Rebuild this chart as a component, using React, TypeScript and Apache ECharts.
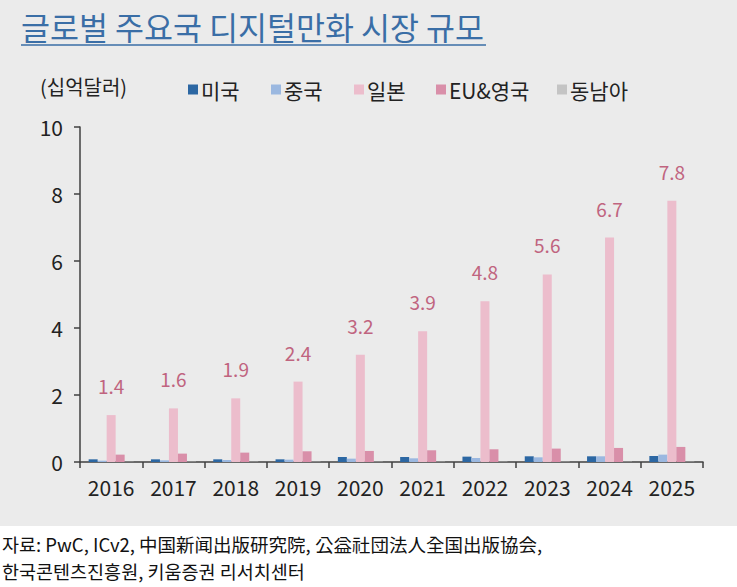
import React, { useEffect, useRef } from "react";
import * as echarts from "echarts";

const years = ["2016", "2017", "2018", "2019", "2020", "2021", "2022", "2023", "2024", "2025"];
const usa = [0.08, 0.08, 0.08, 0.08, 0.15, 0.15, 0.16, 0.17, 0.17, 0.18];
const china = [0.04, 0.05, 0.06, 0.07, 0.1, 0.11, 0.12, 0.14, 0.17, 0.22];
const japan = [1.4, 1.6, 1.9, 2.4, 3.2, 3.9, 4.8, 5.6, 6.7, 7.8];
const euUk = [0.22, 0.25, 0.28, 0.32, 0.33, 0.35, 0.38, 0.4, 0.42, 0.45];
const sea = [0.01, 0.01, 0.01, 0.01, 0.01, 0.01, 0.01, 0.01, 0.01, 0.01];
const seriesNames = ["미국", "중국", "일본", "EU&영국", "동남아"];
const colors = ["#2c67a3", "#9bb8e0", "#ecbdcc", "#d98fa9", "#c4c4c4"];
const legendLefts = [183, 266, 349, 431, 552];

const FONT = "'Noto Sans CJK KR', 'Noto Sans', sans-serif";

export default function App() {
  const ref = useRef<HTMLDivElement>(null);
  useEffect(() => {
    document.body.style.margin = "0";
    const chart = echarts.init(ref.current!, null, { renderer: "svg" });
    const datas = [usa, china, japan, euUk, sea];
    chart.setOption({
      animation: false,
      backgroundColor: "#ffffff",
      textStyle: { fontFamily: FONT },
      color: colors,
      graphic: [
        { type: "rect", z: -10, shape: { x: 0, y: 0, width: 737, height: 526 }, style: { fill: "#ebebeb" }, silent: true },
        { type: "text", left: 21, top: 10, style: { text: "글로벌 주요국 디지털만화 시장 규모", fill: "#3a6ea6", font: `31.5px ${FONT}` } },
        { type: "line", shape: { x1: 21, y1: 45, x2: 486, y2: 45 }, style: { stroke: "#3a6ea6", lineWidth: 1.5 } },
        { type: "text", left: 40, top: 76, style: { text: "(십억달러)", fill: "#222", font: `20px ${FONT}` } },
        {
          type: "text",
          left: 2,
          top: 530,
          style: {
            text: "자료: PwC, ICv2, 中国新闻出版研究院, 公益社団法人全国出版協会,\n한국콘텐츠진흥원, 키움증권 리서치센터",
            fill: "#111",
            font: `18.5px ${FONT}`,
            lineHeight: 27,
          },
        },
      ],
      legend: seriesNames.map((name, i) => ({
        left: legendLefts[i],
        top: 74,
        itemWidth: 10,
        itemHeight: 10,
        itemGap: 0,
        icon: "rect",
        textStyle: { fontSize: 21, color: "#222", fontFamily: FONT, padding: [0, 0, 0, -2] },
        data: [name],
      })),
      grid: { left: 80, right: 34, top: 127, bottom: 125 },
      xAxis: {
        type: "category",
        data: years,
        axisLine: { lineStyle: { color: "#404040", width: 1.5 } },
        axisTick: { show: true, length: 6, lineStyle: { color: "#404040", width: 1.5 } },
        axisLabel: { fontSize: 21, color: "#222", margin: 14, fontFamily: FONT },
      },
      yAxis: {
        type: "value",
        min: 0,
        max: 10,
        interval: 2,
        axisLine: { show: true, lineStyle: { color: "#404040", width: 1.5 } },
        axisTick: { show: true, length: 6, lineStyle: { color: "#404040", width: 1.5 } },
        splitLine: { show: false },
        axisLabel: { fontSize: 21, color: "#222", margin: 17, fontFamily: FONT },
      },
      series: seriesNames.map((name, i) => ({
        name,
        type: "bar",
        data: datas[i],
        barWidth: 9,
        barGap: "0%",
        itemStyle: { color: colors[i] },
        label:
          i === 2
            ? { show: true, position: "top", distance: 20, fontSize: 19, color: "#c0647f", fontFamily: FONT }
            : { show: false },
      })),
    });
    return () => chart.dispose();
  }, []);
  return <div ref={ref} style={{ width: 737, height: 587 }} />;
}
